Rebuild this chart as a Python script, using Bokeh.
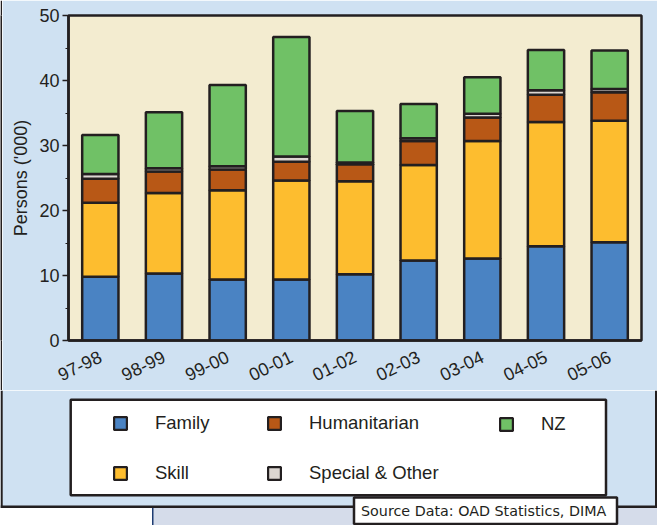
from bokeh.plotting import figure
from bokeh.layouts import column, row
from bokeh.models import (Range1d, FactorRange, SingleIntervalTicker, Legend, LegendItem,
                          BoxAnnotation, Label)
from bokeh.embed import file_html
from bokeh.resources import INLINE

# ---- data (thousands of persons) ----
years = ["97-98", "98-99", "99-00", "00-01", "01-02", "02-03", "03-04", "04-05", "05-06"]
family = [9.8, 10.3, 9.4, 9.4, 10.2, 12.3, 12.6, 14.5, 15.1]
skill = [11.4, 12.4, 13.7, 15.2, 14.3, 14.7, 18.1, 19.1, 18.7]
humanitarian = [3.7, 3.3, 3.2, 2.9, 2.6, 3.7, 3.6, 4.2, 4.4]
special_other = [0.7, 0.5, 0.5, 0.8, 0.3, 0.4, 0.6, 0.7, 0.5]
nz = [6.0, 8.6, 12.5, 18.4, 7.9, 5.3, 5.6, 6.2, 5.9]
series = ["Family", "Skill", "Humanitarian", "Special & Other", "NZ"]
y_label = "Persons ('000)"
source_text = "Source Data: OAD Statistics, DIMA"

# ---- styles ----
colors = ["#4a83c3", "#fdbd2f", "#b85816", "#dcd6d1", "#70c166"]
DARK = "#231f20"
PANEL = "#cfe1f2"
PLOT_BG = "#f3ecd0"
FONT = "Liberation Sans"

TOTAL_W, TOTAL_H = 657, 525
TOP_H = 390
BOT_H = TOTAL_H - TOP_H

# ---------------- main chart ----------------
p = figure(width=TOTAL_W - 2, height=TOP_H, x_range=FactorRange(*years, range_padding=0),
           y_range=Range1d(0, 50), output_backend="svg", toolbar_location=None,
           min_border_left=66, min_border_right=16, min_border_top=15, min_border_bottom=48)
p.border_fill_color = PANEL
p.background_fill_color = PLOT_BG
p.outline_line_color = DARK
p.outline_line_width = 2.5
p.xgrid.grid_line_color = None
p.ygrid.grid_line_color = None

data = {"years": years, "Family": family, "Skill": skill, "Humanitarian": humanitarian,
        "Special & Other": special_other, "NZ": nz}
rs = p.vbar_stack(series, x="years", width=0.57, color=colors, source=data,
                  line_color=DARK, line_width=2.5)

ya = p.yaxis[0]
ya.ticker = SingleIntervalTicker(interval=10, num_minor_ticks=2)
ya.axis_label = y_label
ya.axis_label_text_font = FONT
ya.axis_label_text_font_size = "18px"
ya.axis_label_text_font_style = "normal"
ya.axis_label_text_color = DARK
ya.axis_label_standoff = 5
ya.major_label_text_font = FONT
ya.major_label_text_font_size = "18px"
ya.major_label_text_color = DARK
ya.major_label_standoff = 3
ya.axis_line_color = DARK
ya.axis_line_width = 2.5
ya.major_tick_line_color = DARK
ya.major_tick_line_width = 1.5
ya.major_tick_out = 6
ya.major_tick_in = 0
ya.minor_tick_line_color = DARK
ya.minor_tick_line_width = 1.2
ya.minor_tick_out = 3
ya.minor_tick_in = 0

xa = p.xaxis[0]
xa.axis_line_color = DARK
xa.axis_line_width = 2.5
xa.major_tick_line_color = None
xa.minor_tick_line_color = None
xa.major_label_orientation = 0.45
xa.major_label_text_font = FONT
xa.major_label_text_font_size = "18px"
xa.major_label_text_color = DARK
xa.major_label_standoff = 9

# thin dark strip = left border of the blue panel
left_edge = figure(width=2, height=TOP_H, output_backend="svg", toolbar_location=None,
                   x_axis_type=None, y_axis_type=None, min_border=0,
                   x_range=Range1d(0, 1), y_range=Range1d(0, 1))
left_edge.background_fill_color = DARK
left_edge.border_fill_color = DARK
left_edge.outline_line_color = None

# ---------------- bottom area: legend + source ----------------
q = figure(width=TOTAL_W, height=BOT_H, output_backend="svg", toolbar_location=None,
           x_axis_type=None, y_axis_type=None, min_border=0,
           x_range=Range1d(0, TOTAL_W), y_range=Range1d(0, BOT_H))
q.background_fill_color = "white"
q.border_fill_color = "white"
q.outline_line_color = None
q.xgrid.grid_line_color = None
q.ygrid.grid_line_color = None


def Y(ref_y):
    # page pixel row -> data y of the bottom area
    return TOTAL_H - ref_y


def box(l, r, t, b, fill=None, line=None, lw=0, level="underlay"):
    bx = BoxAnnotation(left=l, right=r, top=Y(t), bottom=Y(b),
                       fill_color=fill if fill else "white", fill_alpha=1 if fill else 0,
                       line_color=line if line else "white", line_width=lw,
                       line_alpha=1 if line else 0, level=level,
                       propagate_hover=False, editable=False)
    q.add_layout(bx)
    return bx


# blue panel continuation and its border
box(0, 656, TOP_H, 506, fill=PANEL)
box(0, 2.2, TOP_H, 507.5, fill=DARK)
box(654.5, 657, TOP_H, 507.5, fill=DARK)
box(0, 657, 505, 507.5, fill=DARK)
# grey-blue strip
box(152.5, 657, 507.5, TOTAL_H, fill="#d5dcea")
box(151.5, 153, 507.5, TOTAL_H, fill="#1e3c72")
# legend frame
box(70.2, 605.5, 399.2, 494.8, fill="white", line=DARK, lw=2.5)

# proxy renderers (a single NaN row, nothing drawn) for the legend swatches
nan = float("nan")
proxies = [q.vbar(x=[nan], top=[nan], width=1, fill_color=c, line_color=DARK, line_width=2.2)
           for c in colors]

ITEM_H = 21
SPACING = 28
LEG_TOP = 413.5


def make_legend(idx, x_ref):
    items = [LegendItem(label=series[i], renderers=[proxies[i]]) for i in idx]
    h = ITEM_H * len(items) + SPACING * (len(items) - 1)
    lg = Legend(items=items, orientation="vertical", padding=0, margin=0,
                spacing=SPACING, glyph_width=16, glyph_height=16, label_height=16,
                label_standoff=27, label_text_font=FONT, label_text_font_size="18.5px",
                label_text_color=DARK, background_fill_alpha=0, border_line_alpha=0,
                location=(x_ref, TOTAL_H - (LEG_TOP + h)))
    q.add_layout(lg, "center")
    return lg


make_legend([0, 1], 112)
make_legend([2, 3], 266)
make_legend([4], 498)

# source box + text
box(353.5, 616.5, 497, 523.5, fill="white", line=DARK, lw=2.5, level="annotation")
q.add_layout(Label(x=360.5, y=Y(510.5), text=source_text, text_font="DejaVu Sans",
                   text_font_size="14.3px", text_color=DARK, text_baseline="alphabetic"))

layout = column(row(left_edge, p, spacing=0), q, spacing=0)

open("out.html", "w").write(file_html(layout, INLINE))
